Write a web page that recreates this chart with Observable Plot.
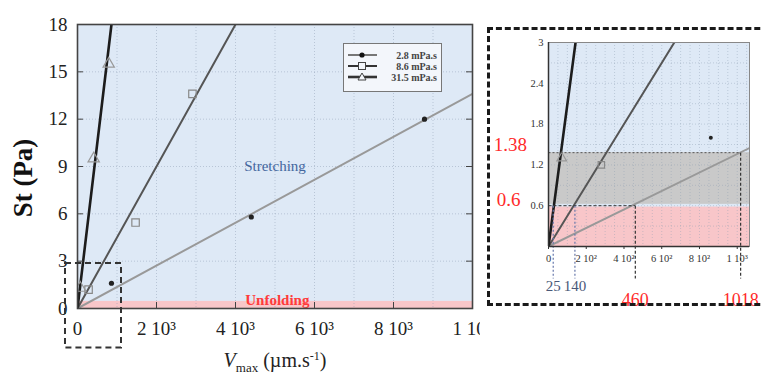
<!DOCTYPE html>
<html><head><meta charset="utf-8">
<script src="https://cdn.jsdelivr.net/npm/d3@7"></script>
<script src="https://cdn.jsdelivr.net/npm/@observablehq/plot@0.6"></script>
<style>
body{margin:0;background:#fff;font-family:"Liberation Serif",serif;}
#wrap{position:relative;width:761px;height:374px;overflow:hidden;}
#wrap > * {position:absolute;}
</style></head><body><div id="wrap"></div>
<script>
// ---- data ----
const seriesNames = ["2.8 mPa.s", "8.6 mPa.s", "31.5 mPa.s"];
const vmax28 = [860, 4400, 8785];
const st28 = [1.6, 5.8, 12.0];
const vmax86 = [280, 1470, 2910];
const st86 = [1.2, 5.45, 13.6];
const vmax315 = [70, 410, 790];
const st315 = [1.3, 9.5, 15.5];
// fitted lines through the origin: end points
const fitEndX = [10000, 4000, 860];
const fitEndY = [13.6, 18, 18];
// ticks
const xTicksMain = [0, 2000, 4000, 6000, 8000, 10000];
const xTickLabelsMain = ["0", "2 10³", "4 10³", "6 10³", "8 10³", "1 10⁴"];
const yTicksMain = [0, 3, 6, 9, 12, 15, 18];
const insetXTicks = [0, 200, 400, 600, 800, 1000];
const insetXTickLabels = ["0", "2 10²", "4 10²", "6 10²", "8 10²", "1 10³"];
const insetYTicks = [0.6, 1.2, 1.8, 2.4, 3];
// regime thresholds (Pa) and crossing velocities
const thresholds = [0.6, 1.38];
const crossV = [25, 140, 460, 1018];
const regimeLabels = ["Stretching", "Unfolding"];

// ---- styles ----
const lineColors = ["#999", "#555", "#1c1c1c"];
const lineWidths = [2, 2, 2.6];
const blue = "#dee9f6", red = "#f8c6c9", gray = "#c9c9c9";
const font = "Liberation Serif, serif";

const vArr = [vmax28, vmax86, vmax315], sArr = [st28, st86, st315];
const points = seriesNames.flatMap((s, i) => vArr[i].map((v, j) => ({series: s, i, v, st: sArr[i][j]})));
const fits = seriesNames.flatMap((s, i) => [{series: s, i, v: 0, st: 0}, {series: s, i, v: fitEndX[i], st: fitEndY[i]}]);

function dataMarks(r) {
  return [
    ...seriesNames.map((s, i) => Plot.line(fits.filter(d => d.i === i), {x: "v", y: "st", stroke: lineColors[i], strokeWidth: lineWidths[i], clip: true})),
    Plot.dot(points.filter(d => d.i === 0), {x: "v", y: "st", r: r, fill: "#222", clip: true}),
    Plot.dot(points.filter(d => d.i === 1), {x: "v", y: "st", symbol: "square", r: r + 1.6, stroke: "#888", strokeWidth: 1.2, fill: "none", clip: true}),
    Plot.dot(points.filter(d => d.i === 2), {x: "v", y: "st", symbol: "triangle", r: r + 1.6, stroke: "#999", strokeWidth: 1.2, fill: "none", clip: true})
  ];
}

const wrap = document.getElementById("wrap");
const xLabMap = new Map(xTicksMain.map((d, i) => [d, xTickLabelsMain[i]]));
const main = Plot.plot({
  width: 480, height: 374,
  marginLeft: 77, marginRight: 8, marginTop: 24, marginBottom: 66,
  x: {domain: [0, 10000]}, y: {domain: [0, 18]},
  style: {fontFamily: font, background: "transparent", overflow: "hidden", color: "#333"},
  marks: [
    Plot.frame({fill: blue, stroke: null}),
    Plot.rect([0], {x1: 0, x2: 10000, y1: 0, y2: 0.45, fill: red}),
    Plot.gridX(d3.range(1000, 10000, 1000), {stroke: "#8a9ab0", strokeOpacity: 0.45, strokeDasharray: "1,2"}),
    Plot.gridY(yTicksMain.slice(1, -1), {stroke: "#8a9ab0", strokeOpacity: 0.45, strokeDasharray: "1,2"}),
    Plot.text([regimeLabels[0]], {x: 5000, y: 9.0, text: d => d, fill: "#44679e", fontSize: 15, fontFamily: font}),
    Plot.text([regimeLabels[1]], {x: 5060, y: 0.55, text: d => d, fill: "#ff3b3b", fontSize: 15, fontWeight: "bold", fontFamily: font}),
    ...dataMarks(2.6),
    Plot.tickY(yTicksMain, {y: d => d, insetRight: 389, stroke: "#444"}),
    Plot.tickY(yTicksMain, {y: d => d, insetLeft: 389, stroke: "#444"}),
    Plot.tickX(xTicksMain, {x: d => d, insetTop: 278, stroke: "#444"}),
    Plot.frame({stroke: "#444", strokeWidth: 1.6}),
    Plot.axisX(xTicksMain, {tickSize: 0, tickPadding: 13, fontSize: 19, label: null, tickFormat: d => xLabMap.get(d), fill: "#222"}),
    Plot.axisY(yTicksMain, {tickSize: 0, tickPadding: 10, fontSize: 19, label: null, fill: "#222"}),
    Plot.rect([0], {x1: -304, x2: 1114, y1: -2.5, y2: 2.85, fill: "none", stroke: "#333", strokeWidth: 2, strokeDasharray: "6,4"})
  ]
});
main.style.left = "0px"; main.style.top = "0px";
wrap.appendChild(main);

const inXLabMap = new Map(insetXTicks.map((d, i) => [d, insetXTickLabels[i]]));
const inset = Plot.plot({
  width: 281, height: 320,
  marginLeft: 68, marginRight: 12, marginTop: 42, marginBottom: 74,
  x: {domain: [0, 1065]}, y: {domain: [0, 3]},
  style: {fontFamily: font, background: "transparent", overflow: "visible", color: "#333"},
  marks: [
    Plot.frame({fill: blue, stroke: null}),
    Plot.rect([0], {x1: 0, x2: 1065, y1: thresholds[0] + 0.02, y2: thresholds[1], fill: gray}),
    Plot.rect([0], {x1: 0, x2: 1065, y1: 0, y2: thresholds[0] - 0.02, fill: red}),
    Plot.gridX(d3.range(50, 1065, 50), {stroke: "#8a9ab0", strokeOpacity: 0.4, strokeDasharray: "1,2"}),
    Plot.gridY(d3.range(0.3, 3, 0.3), {stroke: "#8a9ab0", strokeOpacity: 0.4, strokeDasharray: "1,2"}),
    ...dataMarks(2),
    // threshold guides
    Plot.link([0], {x1: 0, x2: crossV[2], y1: thresholds[0], y2: thresholds[0], stroke: "#333", strokeDasharray: "3,2", strokeWidth: 1}),
    Plot.link([0], {x1: 0, x2: crossV[3], y1: thresholds[1], y2: thresholds[1], stroke: "#555", strokeDasharray: "2,2", strokeWidth: 1}),
    Plot.link([crossV[0], crossV[1]], {x1: d => d, x2: d => d, y1: thresholds[0], y2: -0.47, stroke: "#6677aa", strokeDasharray: "2,2", strokeWidth: 1.2}),
    Plot.link([crossV[2]], {x1: d => d, x2: d => d, y1: thresholds[0], y2: -0.47, stroke: "#333", strokeDasharray: "3,2", strokeWidth: 1.2}),
    Plot.link([crossV[3]], {x1: d => d, x2: d => d, y1: thresholds[1], y2: -0.47, stroke: "#333", strokeDasharray: "3,2", strokeWidth: 1.2}),
    Plot.text([crossV[0], crossV[1]], {x: d => d, y: -0.59, text: d => String(d), fill: "#4a5878", fontSize: 15, fontFamily: font}),
    Plot.text([crossV[2], crossV[3]], {x: d => d, y: -0.79, text: d => String(d), fill: "#ff2a2a", fontSize: 18, fontFamily: font}),
    Plot.text([thresholds[1]], {x: -202, y: 1.49, text: d => String(d), fill: "#ff2a2a", fontSize: 19, fontFamily: font}),
    Plot.text([thresholds[0]], {x: -148, y: 0.68, text: d => String(d), fill: "#ff2a2a", fontSize: 19, textAnchor: "end", fontFamily: font}),
    Plot.frame({stroke: "#888", strokeWidth: 1}),
    Plot.ruleX([0], {stroke: "#333", strokeWidth: 1.5}),
    Plot.ruleY([0], {stroke: "#333", strokeWidth: 1.5}),
    Plot.axisX(insetXTicks, {tickSize: 3, tickPadding: 5, fontSize: 10.5, label: null, tickFormat: d => inXLabMap.get(d), fill: "#333"}),
    Plot.axisY(insetYTicks, {tickSize: 0, tickPadding: 5, fontSize: 10.5, label: null, tickFormat: d => String(d), fill: "#333"})
  ]
});
inset.style.left = "480px"; inset.style.top = "0px";
wrap.appendChild(inset);

// outer dashed box around the inset
const box = document.createElement("div");
box.style.cssText = "left:487px;top:27px;width:300px;height:279px;border:3px dashed #1a1a1a;box-sizing:border-box;";
wrap.appendChild(box);

// legend
const leg = document.createElement("div");
leg.style.cssText = "left:343px;top:43px;width:99px;height:49px;border:1.5px solid #777;background:#f3f6fb;box-sizing:border-box;";
const ns = "http://www.w3.org/2000/svg";
const lsvg = document.createElementNS(ns, "svg");
lsvg.setAttribute("width", 96); lsvg.setAttribute("height", 46);
lsvg.style.position = "absolute"; lsvg.style.left = "0"; lsvg.style.top = "0";
const legY = [11, 22, 33];
const legSym = [
  y => `<circle cx="18" cy="${y}" r="2.6" fill="#111"/>`,
  y => `<rect x="14.5" y="${y - 3.5}" width="7" height="7" fill="#f3f6fb" stroke="#444" stroke-width="1"/>`,
  y => `<path d="M18,${y - 4} L22,${y + 3} L14,${y + 3} Z" fill="#f3f6fb" stroke="#444" stroke-width="1"/>`
];
lsvg.innerHTML = seriesNames.map((s, i) =>
  `<line x1="4" x2="33" y1="${legY[i]}" y2="${legY[i]}" stroke="${i === 0 ? '#777' : '#333'}" stroke-width="${lineWidths[i]}"/>` +
  legSym[i](legY[i]) +
  `<text x="93" y="${legY[i] + 3.5}" text-anchor="end" font-family="${font}" font-size="10" font-weight="bold" fill="#444">${s}</text>`
).join("");
leg.appendChild(lsvg);
wrap.appendChild(leg);

// axis titles
const yt = document.createElement("div");
yt.textContent = "St (Pa)";
yt.style.cssText = `left:23px;top:178px;transform:translate(-50%,-50%) rotate(-90deg);font:bold 27px ${font};color:#111;white-space:nowrap;`;
wrap.appendChild(yt);
const xt = document.createElement("div");
xt.innerHTML = `<i>V</i><sub style="font-size:13px">max</sub> (µm.s<sup style="font-size:12px">-1</sup>)`;
xt.style.cssText = `left:275px;top:362px;transform:translate(-50%,-50%);font:20px ${font};color:#222;white-space:nowrap;line-height:1;`;
wrap.appendChild(xt);
</script></body></html>
